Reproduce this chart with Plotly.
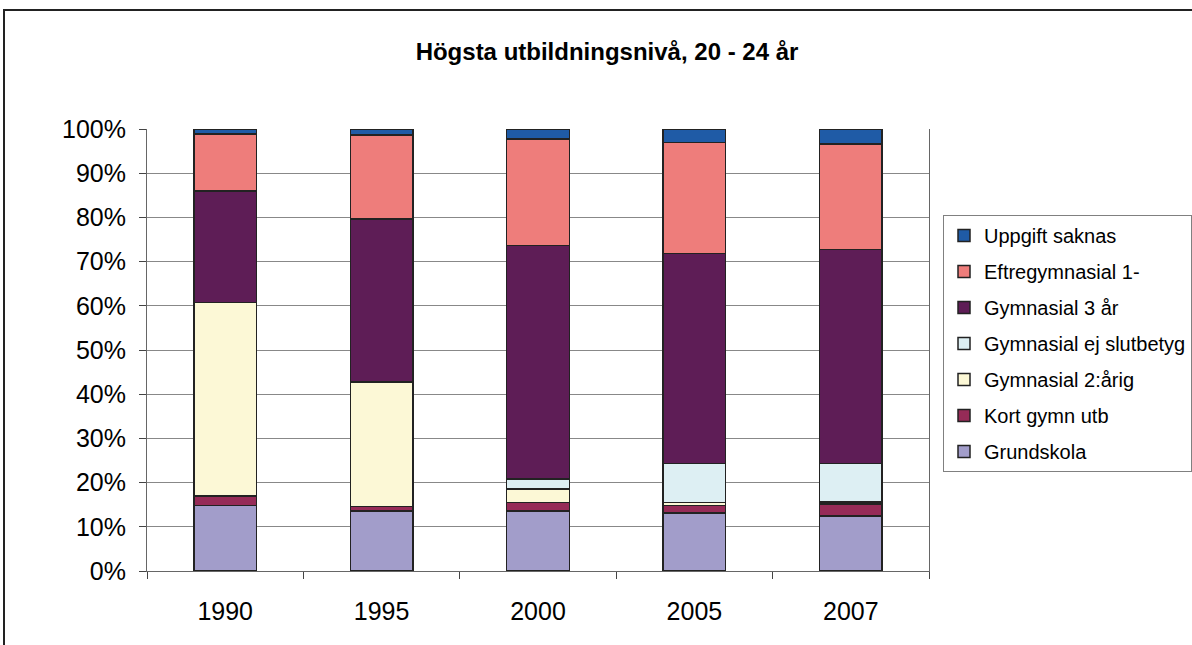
import plotly.graph_objects as go

years = ["1990", "1995", "2000", "2005", "2007"]
series_names = ["Grundskola", "Kort gymn utb", "Gymnasial 2:årig", "Gymnasial ej slutbetyg",
                "Gymnasial 3 år", "Eftregymnasial 1-", "Uppgift saknas"]
grundskola = [14.8, 13.6, 13.6, 13.1, 12.4]
kort_gymn = [2.2, 1.0, 1.9, 1.7, 2.8]
gymn_2arig = [43.8, 28.2, 3.0, 0.7, 0.4]
gymn_ej_slut = [0.0, 0.0, 2.3, 8.8, 8.7]
gymn_3ar = [25.2, 36.8, 52.9, 47.5, 48.4]
eftergymn = [12.9, 19.0, 24.0, 25.1, 23.9]
uppgift_saknas = [1.1, 1.4, 2.3, 3.1, 3.4]
values = [grundskola, kort_gymn, gymn_2arig, gymn_ej_slut, gymn_3ar, eftergymn, uppgift_saknas]
colors = ["#A29DCA", "#962B57", "#FCF8D6", "#DDEFF3", "#5E1D56", "#EE7D7B", "#1F5BA6"]

W, H = 1192, 645
L, R, T, B = 147, 929, 129, 571

fig = go.Figure()
n = len(series_names)
for i, (name, vals, col) in enumerate(zip(series_names, values, colors)):
    fig.add_trace(go.Bar(
        x=years, y=vals, name=name, legendgroup=name, legendrank=n - i,
        marker=dict(color=col, line=dict(color="#222222", width=1.5)),
        width=0.4,
    ))

font_main = "Liberation Sans, Arial, sans-serif"

def px_to_paper_x(px):
    return (px - L) / (R - L)

def px_to_paper_y(py):
    return (B - py) / (B - T)

fig.update_layout(
    width=W, height=H,
    margin=dict(l=L, r=W - R, t=T, b=H - B, pad=0),
    barmode="stack",
    paper_bgcolor="white", plot_bgcolor="white",
    font=dict(family=font_main, color="#000000"),
    title=dict(text="<b>Högsta utbildningsnivå, 20 - 24 år</b>",
               font=dict(family=font_main, size=24),
               x=607 / W, xanchor="center", y=1 - 52 / H, yanchor="middle"),
    showlegend=True,
    legend=dict(
        xref="container", yref="container",
        x=943 / W, xanchor="left",
        y=1 - 215 / H, yanchor="top",
        traceorder="grouped", tracegroupgap=7,
        bordercolor="#808080", borderwidth=1,
        font=dict(family=font_main, size=20),
        itemwidth=30,
    ),
    xaxis=dict(
        type="category",
        showline=True, linecolor="#666666", linewidth=1,
        ticks="outside", ticklen=7, tickcolor="#444444",
        tickson="boundaries",
        tickfont=dict(size=25),
        ticklabelstandoff=18,
        showgrid=False,
    ),
    yaxis=dict(
        range=[0, 100], dtick=10, ticksuffix="%",
        showline=True, linecolor="#666666", linewidth=1, mirror=True,
        ticks="outside", ticklen=7, tickcolor="#444444",
        tickfont=dict(size=25),
        ticklabelstandoff=8,
        showgrid=True, gridcolor="#888888", gridwidth=1,
        zeroline=False,
    ),
    shapes=[dict(type="rect", xref="paper", yref="paper",
                 x0=px_to_paper_x(4), x1=px_to_paper_x(1210),
                 y0=px_to_paper_y(670), y1=px_to_paper_y(10),
                 line=dict(color="#222222", width=2), fillcolor="rgba(0,0,0,0)", layer="below")],
)

fig.write_html("out.html", config={"displayModeBar": False},
               post_script="document.body.style.margin='0px';")
